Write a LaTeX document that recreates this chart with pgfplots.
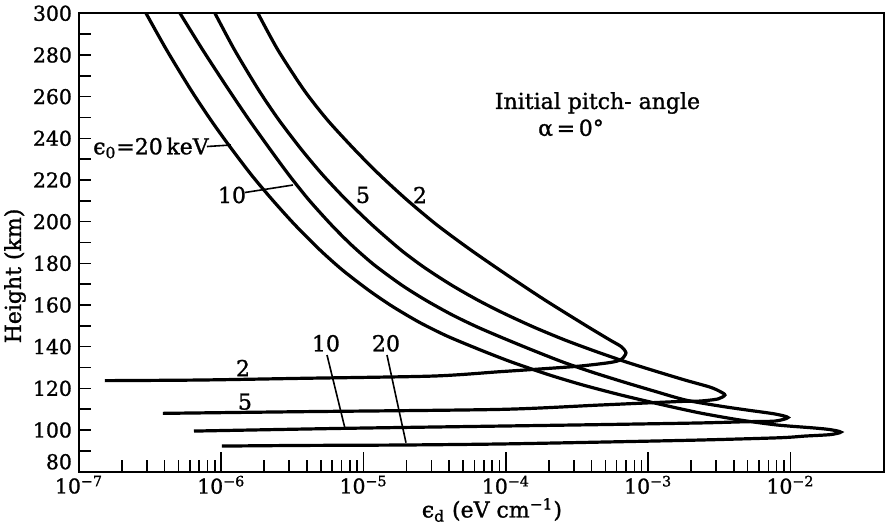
\documentclass[border=0pt]{standalone}
\usepackage{fontspec}
\setmainfont{DejaVu Serif}[UprightFeatures={FakeBold=1.2}]
\usepackage{pgfplots}
\pgfplotsset{compat=1.18}
\begin{document}
\begin{tikzpicture}
\begin{axis}[
  at={(0,0)}, anchor=south west,
  scale only axis, width=402.5pt, height=229.2pt,
  xmode=log, xmin=1e-7, xmax=0.0454, ymin=80, ymax=300,
  axis line style={line width=1pt},
  tick pos=left, tick align=inside,
  major tick length=10pt, minor tick length=6pt,
  every tick/.style={black, line width=0.8pt},
  xtick={1e-7,1e-6,1e-5,1e-4,1e-3,1e-2},
  xticklabels={10\textsuperscript{−7},10\textsuperscript{−6},10\textsuperscript{−5},10\textsuperscript{−4},10\textsuperscript{−3},10\textsuperscript{−2}},
  ytick={100,120,...,300},
  minor ytick={90,100,...,290},
  every major y tick/.append style={draw=none},
  extra y ticks={80}, extra y tick labels={80},
  extra y tick style={yticklabel style={yshift=5pt}},
  /pgf/number format/assume math mode=true,
  tick label style={font=\fontsize{10.2}{12}\selectfont},
  xticklabel style={yshift=1.5pt},
  label style={font=\fontsize{11}{13}\selectfont},
  ylabel={Height (km)},
  ylabel style={at={(axis description cs:-0.0795,0.427)}, anchor=center},
  xlabel={ϵ\textsubscript{d} (eV cm\textsuperscript{−1})},
  xlabel style={at={(axis description cs:0.513,-0.0835)}, anchor=center},
]
% 2 keV
\addplot[black, line width=1.6pt, smooth, tension=0.45] table {
1.81e-6 300
2.50e-6 282.4
3.81e-6 263.2
5.57e-6 248.8
8.70e-6 234.4
1.30e-5 222.4
2.02e-5 210.4
3.28e-5 198.4
5.67e-5 186.4
1.02e-4 174.4
1.88e-4 162.4
3.60e-4 150.4
5.39e-4 143.2
6.44e-4 140.1
6.98e-4 137.0
6.44e-4 133.8
5.39e-4 132.4
3.32e-4 130.7
1.74e-4 129.3
9.09e-5 128.0
3.07e-5 125.9
3.57e-6 124.8
7.09e-7 124.0
1.52e-7 123.7
};
% 5 keV
\addplot[black, line width=1.6pt, smooth, tension=0.45] table {
9.03e-7 300
1.24e-6 282.4
1.83e-6 263.2
2.54e-6 248.8
3.68e-6 234.4
5.17e-6 222.4
7.56e-6 210.4
1.15e-5 198.4
1.83e-5 186.4
2.70e-5 177.8
4.14e-5 169.6
6.33e-5 162.4
9.54e-5 156.2
1.57e-4 149.4
2.60e-4 143.2
4.21e-4 137.9
7.05e-4 132.6
1.12e-3 128.3
1.81e-3 124.0
2.72e-3 120.6
3.20e-3 118.5
3.46e-3 116.8
3.09e-3 114.9
2.31e-3 113.9
1.67e-3 113.7
4.59e-4 112.0
9.09e-5 109.9
3.57e-6 108.8
3.89e-7 108.0
};
% 10 keV
\addplot[black, line width=1.6pt, smooth, tension=0.45] table {
5.13e-7 300
7.41e-7 282.4
1.13e-6 263.2
1.57e-6 248.8
2.22e-6 234.4
2.99e-6 222.4
4.13e-6 210.4
5.95e-6 198.4
8.22e-6 188.8
1.19e-5 179.2
1.85e-5 169.6
2.72e-5 162.4
4.21e-5 155.2
6.32e-5 149.4
9.51e-5 144.2
1.53e-4 138.4
2.52e-4 132.6
4.03e-4 127.8
6.76e-4 123.0
1.10e-3 118.7
1.83e-3 114.4
3.20e-3 111.5
4.95e-3 109.6
7.78e-3 107.7
9.60e-3 106.0
7.78e-3 104.3
4.95e-3 104.0
2.31e-3 103.4
4.59e-4 102.6
9.09e-5 101.9
7.17e-6 100.8
6.43e-7 99.5
};
% 20 keV
\addplot[black, line width=1.6pt, smooth, tension=0.45] table {
2.96e-7 300
4.13e-7 282.4
6.12e-7 263.2
8.44e-7 248.8
1.15e-6 236.0
1.63e-6 222.4
2.29e-6 210.4
3.30e-6 198.4
4.94e-6 186.4
7.10e-6 176.8
1.08e-5 167.2
1.58e-5 159.5
2.45e-5 151.8
3.86e-5 145.1
6.64e-5 138.4
1.10e-4 132.6
2.03e-4 126.4
3.48e-4 121.6
6.44e-4 116.8
1.19e-3 112.5
2.31e-3 108.2
4.42e-3 104.8
8.10e-3 102.4
1.46e-2 101.0
1.90e-2 100.2
2.26e-2 99.0
1.90e-2 97.8
1.26e-2 97.1
8.44e-3 96.3
2.31e-3 95.2
4.59e-4 94.2
9.09e-5 93.3
1.80e-5 92.8
3.57e-6 92.6
1.01e-6 92.3
};
% annotations
\node[font=\fontsize{11}{13}\selectfont] at (rel axis cs:0.0894,0.7062) {ϵ\textsubscript{0}=20\,keV};
\draw[line width=0.8pt] (rel axis cs:0.1590,0.7094) -- (rel axis cs:0.1888,0.7127);
\node[font=\fontsize{11}{13}\selectfont] at (rel axis cs:0.1901,0.6036) {10};
\draw[line width=0.8pt] (rel axis cs:0.2062,0.6091) -- (rel axis cs:0.2658,0.6254);
\node[font=\fontsize{11}{13}\selectfont] at (rel axis cs:0.3528,0.6036) {5};
\node[font=\fontsize{11}{13}\selectfont] at (rel axis cs:0.4236,0.6036) {2};
\node[font=\fontsize{11}{13}\selectfont] at (rel axis cs:0.6441,0.8043) {Initial pitch- angle};
\node[font=\fontsize{11}{13}\selectfont] at (rel axis cs:0.6112,0.7498) {α\,=\,0°};
\node[font=\fontsize{11}{13}\selectfont] at (rel axis cs:0.2037,0.2262) {2};
\node[font=\fontsize{11}{13}\selectfont] at (rel axis cs:0.2062,0.1527) {5};
\node[font=\fontsize{11}{13}\selectfont] at (rel axis cs:0.3068,0.2801) {10};
\node[font=\fontsize{11}{13}\selectfont] at (rel axis cs:0.3814,0.2801) {20};
\draw[line width=0.8pt] (rel axis cs:0.3081,0.2546) -- (rel axis cs:0.3304,0.0947);
\draw[line width=0.8pt] (rel axis cs:0.3826,0.2546) -- (rel axis cs:0.4062,0.0633);
\end{axis}
\pgfresetboundingbox
\path[use as bounding box] (-39.5pt,-27.65pt) rectangle (403pt,235.85pt);
\end{tikzpicture}
\end{document}
